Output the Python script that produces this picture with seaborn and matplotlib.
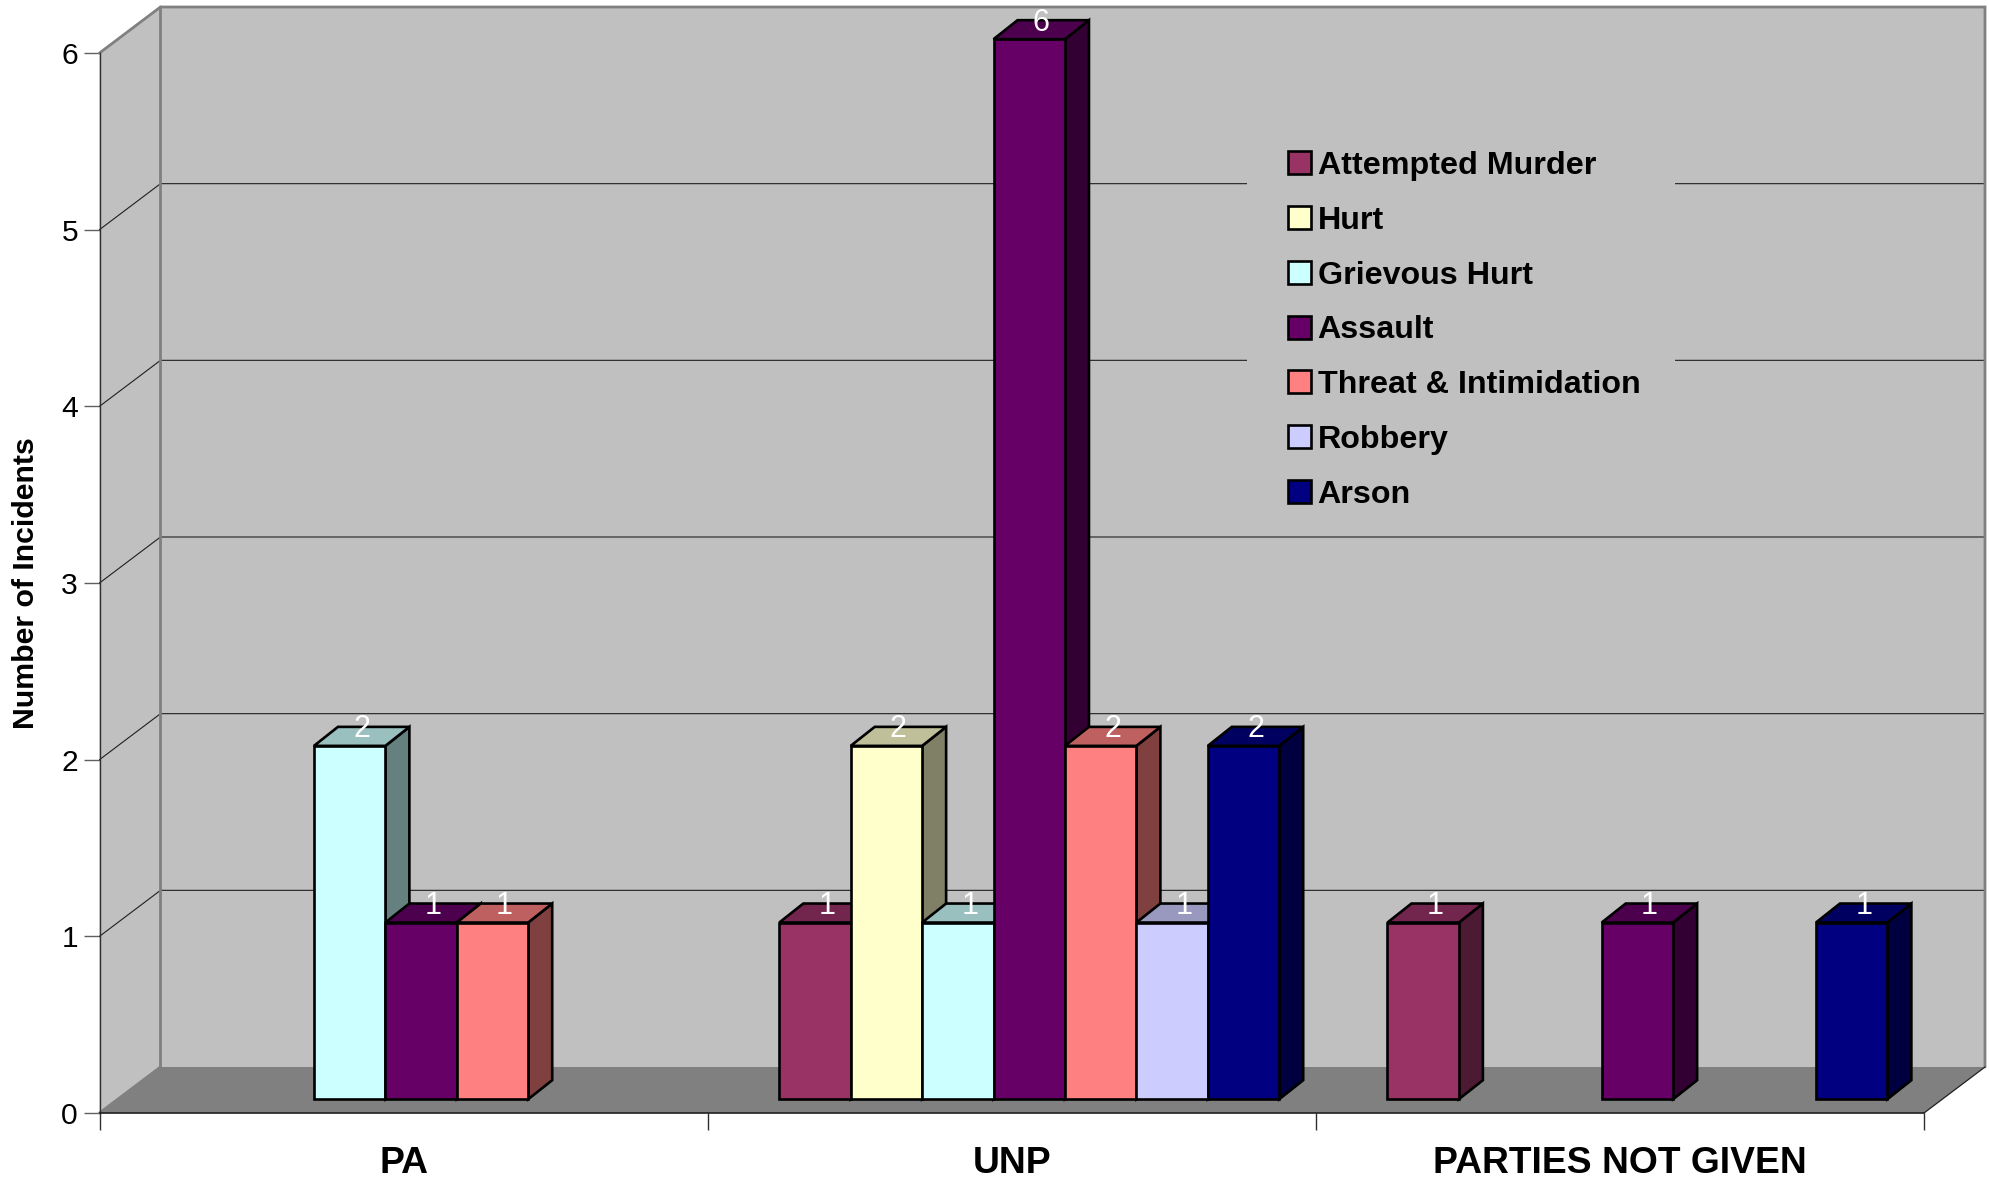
# 3D looking clustered bar chart, incidents per party
import numpy as np
import pandas as pd
import matplotlib
matplotlib.use('Agg')
import matplotlib.pyplot as plt
from matplotlib.patches import Patch, Polygon, Rectangle
from matplotlib.colors import to_rgb
import seaborn as sns

# Data
parties = ['PA', 'UNP', 'PARTIES NOT GIVEN']
crimes = ['Attempted Murder', 'Hurt', 'Grievous Hurt', 'Assault',
          'Threat & Intimidation', 'Robbery', 'Arson']
attempted_murder = [np.nan, 1, 1]
hurt = [np.nan, 2, np.nan]
grievous_hurt = [2, 1, np.nan]
assault = [1, 6, 1]
threat = [1, 2, np.nan]
robbery = [np.nan, 1, np.nan]
arson = [np.nan, 2, 1]
colors = ['#993366', '#FFFFCC', '#CCFFFF', '#660066', '#FF8080', '#CCCCFF', '#000080']
y_ticks = [0, 1, 2, 3, 4, 5, 6]

rows = []
for crime, values in zip(crimes, [attempted_murder, hurt, grievous_hurt, assault, threat, robbery, arson]):
    for party, value in zip(parties, values):
        rows.append({'party': party, 'crime': crime, 'incidents': value})
df = pd.DataFrame(rows).dropna()

sns.set_theme(style='white')
plt.rcParams['font.family'] = ['Liberation Sans', 'DejaVu Sans']

W, H = 1990, 1181
fig = plt.figure(figsize=(W / 100, H / 100), dpi=100, facecolor='white')

# front plane of the chart, pixels from the reference
left, right, y_zero, y_top = 99.5, 1924, 1113, 53
ax = fig.add_axes([left / W, (H - y_zero) / H, (right - left) / W, (y_zero - y_top) / H])
ax.patch.set_visible(False)

sns.barplot(data=df, x='party', y='incidents', hue='crime', order=parties, hue_order=crimes,
            palette=colors, saturation=1, width=0.822, gap=0, errorbar=None, legend=False,
            edgecolor='black', linewidth=1.9, ax=ax)
ax.set_xlim(-0.5, 2.5)
ax.set_ylim(0, 6)

# pixels to data units
ux = 3 / (right - left)
uy = 6 / (y_zero - y_top)
wall_dx, wall_dy = 61 * ux, 46 * uy
bar_dx, bar_dy = 17.5 * ux, 13.8 * uy
side_dx, side_dy = 24 * ux, 19 * uy


def poly(points, color, edge='none', lw=0, z=0.5):
    p = Polygon(points, closed=True, facecolor=color, edgecolor=edge, linewidth=lw,
                clip_on=False, zorder=z, joinstyle='miter')
    ax.add_patch(p)


def shade(color, f):
    return tuple(c * f for c in to_rgb(color))


# bars: move the front faces into the room, add top and side faces
bars = sorted(ax.patches, key=lambda b: b.get_x())
for i, bar in enumerate(bars):
    z = 3 + i * 0.01
    bar.set_x(bar.get_x() + bar_dx)
    bar.set_y(bar_dy)
    bar.set_clip_on(False)
    bar.set_zorder(z + 0.002)
    x0, w, h = bar.get_x(), bar.get_width(), bar.get_height()
    fc = bar.get_facecolor()[:3]
    top = bar_dy + h
    poly([(x0 + w, bar_dy), (x0 + w + side_dx, bar_dy + side_dy),
          (x0 + w + side_dx, top + side_dy), (x0 + w, top)], shade(fc, 0.5), 'black', 1.9, z)
    poly([(x0, top), (x0 + side_dx, top + side_dy), (x0 + w + side_dx, top + side_dy),
          (x0 + w, top)], shade(fc, 0.75), 'black', 1.9, z + 0.001)
    ax.text(x0 + w / 2 + side_dx / 2, top + side_dy - 2.5 * uy, f'{h:.0f}', color='white', fontsize=22,
            ha='center', va='center', zorder=10, clip_on=False)

# walls and floor
xa, xb = ax.get_xlim()
poly([(xa, 0), (xa + wall_dx, wall_dy), (xa + wall_dx, 6 + wall_dy), (xa, 6)], '#C0C0C0')
poly([(xa + wall_dx, wall_dy), (xb + wall_dx, wall_dy), (xb + wall_dx, 6 + wall_dy),
      (xa + wall_dx, 6 + wall_dy)], '#C0C0C0')
poly([(xa, 0), (xb, 0), (xb + wall_dx, wall_dy), (xa + wall_dx, wall_dy)], '#808080')

# grid runs along the left wall and then over the back wall
for t in y_ticks[1:-1]:
    ax.plot([xa, xa + wall_dx, xb + wall_dx], [t, t + wall_dy, t + wall_dy], color='#202020',
            lw=0.8, clip_on=False, zorder=1, solid_joinstyle='miter')

edge = '#808080'
ax.plot([xa, xa + wall_dx, xb + wall_dx, xb + wall_dx], [6, 6 + wall_dy, 6 + wall_dy, wall_dy],
        color=edge, lw=2, clip_on=False, zorder=1.2, solid_joinstyle='miter')
ax.plot([xa + wall_dx, xa + wall_dx, xa], [6 + wall_dy, wall_dy, 0], color=edge, lw=2,
        clip_on=False, zorder=1.2)
ax.plot([xb, xb + wall_dx], [0, wall_dy], color='#202020', lw=0.9, clip_on=False, zorder=1.2)

# axes
sns.despine(ax=ax, top=True, right=True)
ax.spines['left'].set_color('#303030')
ax.spines['bottom'].set_color('#202020')
ax.spines['left'].set_linewidth(1)
ax.spines['bottom'].set_linewidth(1.2)
ax.set_yticks(y_ticks)
ax.tick_params(axis='y', which='major', left=True, length=11.5, width=1, color='#606060',
               pad=4, labelsize=21.6, labelcolor='black')
ax.set_xticks([-0.5, 0.5, 1.5, 2.5])
ax.set_xticklabels([])
ax.set_xticks([0, 1, 2], minor=True)
ax.set_xticklabels(parties, minor=True, fontsize=26.8, fontweight='bold', color='black')
ax.tick_params(axis='x', which='major', bottom=True, length=12.5, width=1, color='#303030')
ax.tick_params(axis='x', which='minor', bottom=False, length=0, pad=24)
ax.set_xlabel('')
ax.set_ylabel('Number of Incidents', fontsize=21.8, fontweight='bold', color='black', labelpad=15)

# legend, the grey box behind it hides the grid lines
ax.add_patch(Rectangle((1247 / W, 1 - 525 / H), 428 / W, 395 / H, transform=fig.transFigure,
                       facecolor='#C0C0C0', edgecolor='none', clip_on=False, zorder=1.1))
handles = [Patch(facecolor=c, edgecolor='black', linewidth=1.9, label=n) for c, n in zip(colors, crimes)]
leg = ax.legend(handles=handles, loc='upper left', bbox_to_anchor=(1247 / W, 1 - 110 / H),
                bbox_transform=fig.transFigure, borderaxespad=0, borderpad=1.27,
                frameon=False, handlelength=0.72, handleheight=0.72, handletextpad=0.2,
                labelspacing=0.77, labelcolor='black', prop={'size': 23.2, 'weight': 'bold'})
leg.set_zorder(2)

fig.savefig('out.png', dpi=100)
